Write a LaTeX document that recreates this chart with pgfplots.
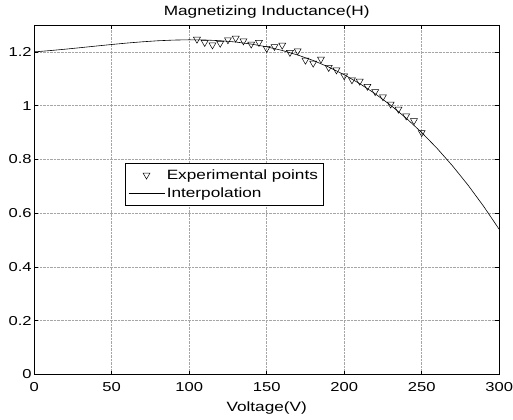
\documentclass[border=0pt]{standalone}
\usepackage{fontspec}
\setmainfont{Liberation Sans}[FakeStretch=1.28]
\usepackage{pgfplots}
\pgfplotsset{compat=1.18}
\begin{document}
\begin{tikzpicture}
\useasboundingbox (-34.2bp,-45.5bp) rectangle (478.8bp,374.5bp);
\begin{axis}[
  scale only axis,
  width=465bp, height=349.5bp,
  xmin=0, xmax=300, ymin=0, ymax=1.3,
  xtick={0,50,...,300},
  ytick={0,0.2,0.4,0.6,0.8,1,1.2},
  tick align=inside,
  tick pos=both,
  major tick length=4bp,
  grid=major,
  major grid style={densely dotted, gray!70, line width=0.5pt},
  axis line style={line width=0.8pt},
  tick style={black, line width=0.6pt},
  /pgf/number format/assume math mode=true,
  ticklabel style={font=\fontsize{13}{14}\selectfont},
  xticklabel style={yshift=-4bp},
  yticklabel style={xshift=1bp},
  title={\fontsize{13.5}{14}\selectfont Magnetizing Inductance(H)},
  title style={yshift=-3bp},
  xlabel={\fontsize{13.5}{14}\selectfont Voltage(V)},
  xlabel style={yshift=-4bp},
  legend style={at={(0.195,0.605)}, anchor=north west, draw=black, line width=0.8pt,
    font=\fontsize{13.5}{16}\selectfont, inner xsep=3bp, inner ysep=4bp,
    row sep=3bp, cells={anchor=west}},
  legend image post style={line width=0.5pt},
  legend image code/.code={\draw[mark repeat=2,mark phase=2,#1] plot coordinates {(0bp,0bp) (18bp,0bp) (36bp,0bp)};},
]
\addplot[only marks, mark=triangle, mark size=4bp, mark options={rotate=180, fill=white, draw=black, line width=0.5pt}]
coordinates {
(105,1.247) (110,1.235) (115,1.226) (120,1.232) (125,1.245) (130,1.251)
(135,1.241) (140,1.229) (145,1.235) (150,1.213) (155,1.220) (160,1.225)
(165,1.198) (170,1.204) (175,1.169) (180,1.158) (185,1.173) (190,1.142)
(195,1.133) (200,1.111) (205,1.096) (210,1.091) (215,1.072) (220,1.052)
(225,1.033) (230,1.006) (235,0.987) (240,0.962) (245,0.944) (250,0.900)
};
\addlegendentry{Experimental points}
\addplot[black, line width=0.6pt, mark=none]
coordinates {
(0,1.2000) (10,1.2047) (20,1.2100) (30,1.2158) (40,1.2217) (50,1.2275)
(60,1.2329) (70,1.2376) (80,1.2414) (90,1.2439) (100,1.2450) (110,1.2443)
(120,1.2416) (130,1.2367) (140,1.2291) (150,1.2188) (160,1.2053) (170,1.1884)
(180,1.1680) (190,1.1436) (200,1.1150) (210,1.0820) (220,1.0442) (230,1.0015)
(240,0.9535) (250,0.9000) (260,0.8407) (270,0.7753) (280,0.7036) (290,0.6252)
(300,0.5400)
};
\addlegendentry{Interpolation}
\end{axis}
\end{tikzpicture}
\end{document}
